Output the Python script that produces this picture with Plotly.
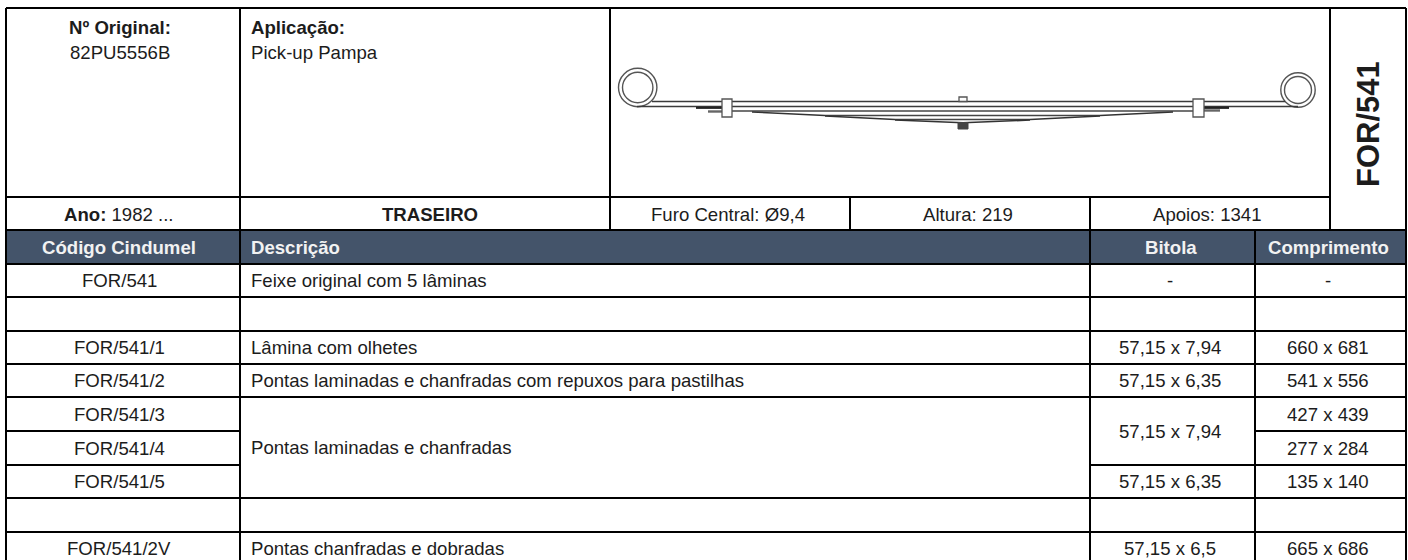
import plotly.graph_objects as go

FONT = "Liberation Sans"
INK = "#1c1c1c"
HEADER_FILL = "#44546a"
HEADER_INK = "#f2f2f2"
BODY_SIZE = 18.6
LEFT_X = 248.5

# ---- table content ----
part_number_label = "Nº Original:"
part_number = "82PU5556B"
application_label = "Aplicação:"
application = "Pick-up Pampa"
year_label = "Ano:"
year = "1982 ..."
position = "TRASEIRO"
center_hole = "Furo Central: Ø9,4"
height = "Altura: 219"
supports = "Apoios: 1341"
side_code = "FOR/541"

headers = ["Código Cindumel", "Descrição", "Bitola", "Comprimento"]
codes = ["FOR/541", "", "FOR/541/1", "FOR/541/2", "FOR/541/3", "FOR/541/4", "FOR/541/5", "", "FOR/541/2V"]
lengths = ["-", "", "660 x 681", "541 x 556", "427 x 439", "277 x 284", "135 x 140", "", "665 x 686"]
descriptions = [
    ("Feixe original com 5 lâminas", 0, 0),
    ("Lâmina com olhetes", 2, 2),
    ("Pontas laminadas e chanfradas com repuxos para pastilhas", 3, 3),
    ("Pontas laminadas e chanfradas", 4, 6),
    ("Pontas chanfradas e dobradas", 8, 8),
]
gauges = [
    ("-", 0, 0),
    ("57,15 x 7,94", 2, 2),
    ("57,15 x 6,35", 3, 3),
    ("57,15 x 7,94", 4, 5),
    ("57,15 x 6,35", 6, 6),
    ("57,15 x 6,5", 8, 8),
]

# ---- table geometry (canvas pixels) ----
row_y = [8, 197, 230, 264, 297, 331, 364, 397, 431, 465, 498, 532, 565]
body_y = row_y[3:]
h_segments = [
    (8, 6, 1406), (197, 6, 1330), (230, 6, 1406), (264, 6, 1406), (297, 6, 1406),
    (331, 6, 1406), (364, 6, 1406), (397, 6, 1406), (431, 6, 240), (431, 1255, 1406),
    (465, 6, 240), (465, 1090, 1406), (498, 6, 1406), (532, 6, 1406),
]
v_segments = [
    (6, 8, 560), (240, 8, 560), (610, 8, 230), (850, 197, 230), (1090, 197, 560),
    (1255, 230, 560), (1330, 8, 230), (1406, 8, 560),
]

# ---- leaf spring drawing: (x0, y0, x1, y1, width, colour) ----
leaf_lines = [
    (652, 101.5, 1285, 101.5, 1.5, "#3a3a3a"),
    (637, 106.5, 1298, 106.5, 1.6, "#3a3a3a"),
    (725, 111, 1200, 111, 1.5, "#444444"),
    (752, 112, 825, 115.5, 1.5, "#333333"),
    (825, 115.5, 1100, 115.5, 1.5, "#444444"),
    (1100, 115.5, 1173, 112, 1.5, "#333333"),
    (825, 116, 895, 119.5, 1.5, "#333333"),
    (895, 119.5, 1030, 119.5, 1.5, "#444444"),
    (1030, 119.5, 1100, 116, 1.5, "#333333"),
    (895, 120, 963, 122.8, 1.6, "#333333"),
    (963, 122.8, 1030, 120, 1.6, "#333333"),
    (696, 107.8, 722, 107.8, 2.2, "#222222"),
    (1204, 107.8, 1229, 107.8, 2.2, "#222222"),
    (708, 111.5, 722, 111.5, 2.4, "#666666"),
    (1204, 110.5, 1220, 110.5, 2.4, "#666666"),
]
eyes = [(637.7, 87.5, 19.2), (637.7, 87.5, 15.2), (1298, 90, 17.2), (1298, 90, 13.5)]
clips = [(722, 732, 99, 117), (1193, 1204, 99, 117)]

shapes = []
annotations = []


def text(x, y, s, size=BODY_SIZE, bold=False, anchor="center", color=INK, angle=0):
    annotations.append(dict(
        x=x, y=y, xref="x", yref="y", text=f"<b>{s}</b>" if bold else s, showarrow=False,
        xanchor=anchor, yanchor="middle", textangle=angle,
        font=dict(family=FONT, size=size, color=color),
    ))


def line(x0, y0, x1, y1, width=2.0, color="#000000"):
    shapes.append(dict(type="line", xref="x", yref="y", x0=x0, y0=y0, x1=x1, y1=y1,
                       line=dict(color=color, width=width), layer="above"))


# header band
shapes.append(dict(type="rect", xref="x", yref="y", x0=6, x1=1406, y0=230, y1=264,
                   fillcolor=HEADER_FILL, line=dict(width=0), layer="below"))

# spring
for cx, cy, r in eyes:
    shapes.append(dict(type="circle", xref="x", yref="y", x0=cx - r, x1=cx + r, y0=cy - r, y1=cy + r,
                       line=dict(color="#555555", width=1.4), layer="above"))
for x0, y0, x1, y1, w, c in leaf_lines:
    line(x0, y0, x1, y1, w, c)
shapes.append(dict(type="rect", xref="x", yref="y", x0=959, x1=967, y0=97, y1=101.5,
                   fillcolor="#ffffff", line=dict(color="#555555", width=1.3), layer="above"))
shapes.append(dict(type="rect", xref="x", yref="y", x0=958, x1=968, y0=122.5, y1=129,
                   fillcolor="#444444", line=dict(color="#444444", width=1), layer="above"))
for x0, x1, y0, y1 in clips:
    shapes.append(dict(type="rect", xref="x", yref="y", x0=x0, x1=x1, y0=y0, y1=y1,
                       fillcolor="#ffffff", line=dict(color="#555555", width=1.3), layer="above"))

# grid
for y, x0, x1 in h_segments:
    line(x0, y, x1, y)
for x, y0, y1 in v_segments:
    line(x, y0, x, y1)

# top block
text(119.5, 27, part_number_label, bold=True)
text(119.5, 52, part_number)
text(LEFT_X, 27, application_label, bold=True, anchor="left")
text(LEFT_X, 52, application, anchor="left")
text(119, 214, f"<b>{year_label}</b> {year}")
text(430, 214, position, bold=True)
text(728, 214, center_hole)
text(968, 214, height)
text(1207, 214, supports)
text(1368, 124, side_code, size=31, bold=True, angle=-90)

# header row
text(119, 247, headers[0], bold=True, color=HEADER_INK)
text(LEFT_X, 247, headers[1], bold=True, anchor="left", color=HEADER_INK)
text(1171, 247, headers[2], bold=True, color=HEADER_INK)
text(1328, 247, headers[3], bold=True, color=HEADER_INK)


def mid(a, b):
    return (body_y[a] + body_y[b + 1]) / 2


for i, c in enumerate(codes):
    if c:
        text(119, mid(i, i), c)
for i, c in enumerate(lengths):
    if c:
        text(1328, mid(i, i), c)
for s, a, b in descriptions:
    text(LEFT_X, mid(a, b), s, anchor="left")
for s, a, b in gauges:
    text(1170, mid(a, b), s)

fig = go.Figure()
fig.add_trace(go.Scatter(x=[0, 1408], y=[0, 560], mode="markers", marker=dict(opacity=0), hoverinfo="skip", showlegend=False))
fig.update_layout(
    width=1408, height=560, margin=dict(l=0, r=0, t=0, b=0),
    paper_bgcolor="#ffffff", plot_bgcolor="#ffffff", showlegend=False,
    shapes=shapes, annotations=annotations,
    xaxis=dict(range=[0, 1408], visible=False, fixedrange=True),
    yaxis=dict(range=[560, 0], visible=False, fixedrange=True),
)
fig.write_html("out.html", config=dict(displayModeBar=False), default_width=1408, default_height=560,
               post_script="document.body.style.margin='0';document.body.style.overflow='hidden';")
